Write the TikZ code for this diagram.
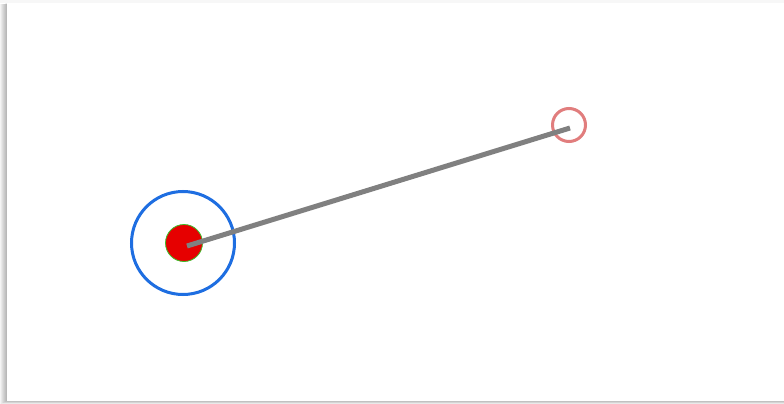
\documentclass[tikz,border=0pt]{standalone}
\definecolor{ringblue}{RGB}{30,110,225}
\definecolor{ringpink}{RGB}{225,125,125}
\definecolor{dotred}{RGB}{230,0,0}
\definecolor{dotgreen}{RGB}{60,190,40}
\definecolor{linegray}{RGB}{128,128,128}
\begin{document}
\begin{tikzpicture}[x=1pt,y=-1pt,
  ring/.style={circle,draw,line width=3pt,inner sep=0pt},
  dot/.style={circle,fill=dotred,draw=dotgreen,line width=0.8pt,inner sep=0pt,minimum size=37pt}]
\useasboundingbox (0,0) rectangle (784,404);
\fill[white] (0,0) rectangle (784,404);
\fill[black!3] (0,0) rectangle (784,3);
% panel shadow
\foreach \o in {7,6,5,4,3,2,1}{
  \fill[black,opacity=0.045] (7-\o,3+\o*0.2) rectangle (784,401+\o*0.45);
}
\fill[white] (7,3) rectangle (784,401);
% elements
\node[ring,draw=ringblue,minimum size=103pt] (blue) at (183,243) {};
\node[dot] (red) at (184,243) {};
\node[ring,draw=ringpink,minimum size=33pt] (pink) at (569,125) {};
\coordinate (s) at (187,246);
\coordinate (e) at (570,128);
\draw[linegray,line width=5pt] (s) -- (e);
\end{tikzpicture}
\end{document}
